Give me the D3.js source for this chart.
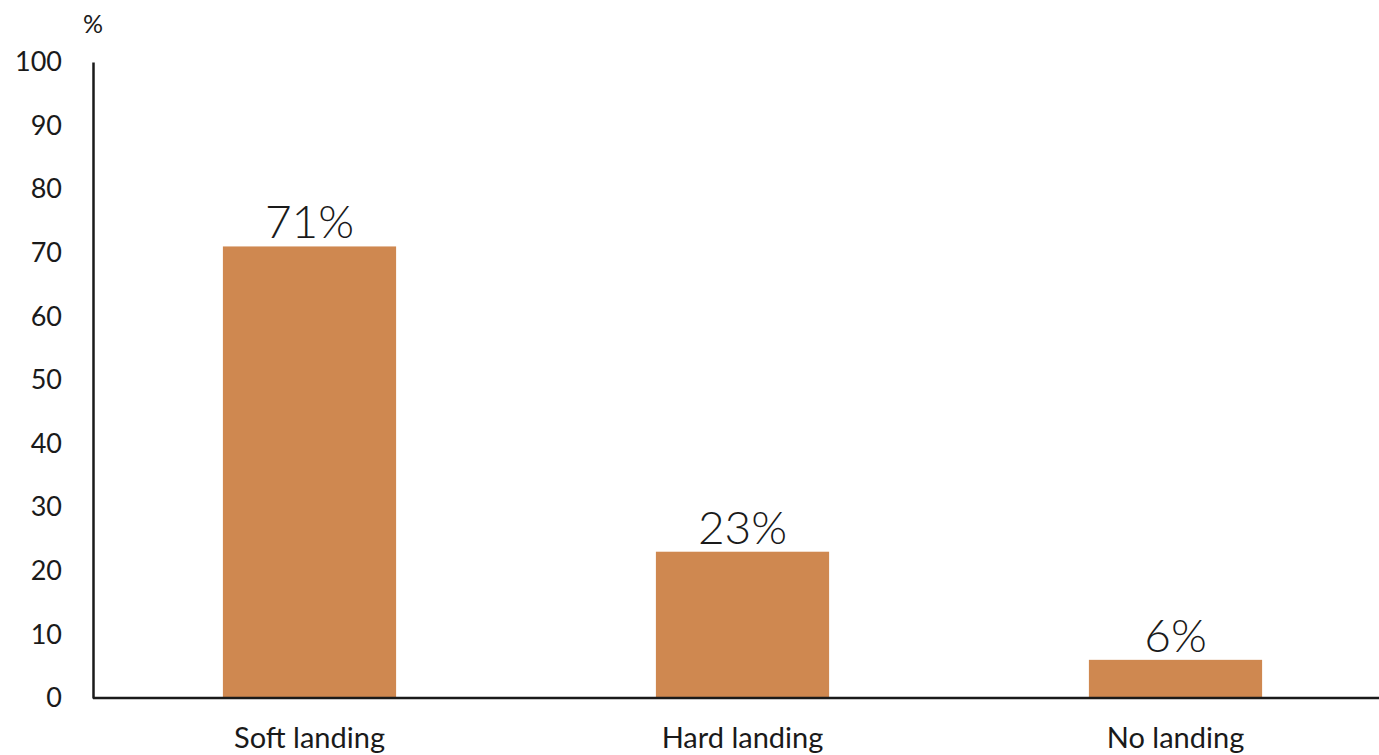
<!DOCTYPE html>
<html>
<head>
<meta charset="utf-8">
<script src="https://cdn.jsdelivr.net/npm/d3@7"></script>
<style>
  html, body { margin: 0; padding: 0; background: #fff; }
  svg { display: block; font-family: Lato, "Noto Sans", sans-serif; }
</style>
</head>
<body>
<svg id="chart" width="1379" height="755"></svg>
<script>
// Survey outcome shares
const categories = ["Soft landing", "Hard landing", "No landing"];
const values = [71, 23, 6];
const valueLabels = ["71%", "23%", "6%"];
const yTicks = [0, 10, 20, 30, 40, 50, 60, 70, 80, 90, 100];

(function draw() {
  const svg = d3.select("#chart");
  const mLeft = 93, mTop = 62, mBottom = 698, mRight = 1379;

  const x = d3.scaleBand()
    .domain(categories)
    .range([mLeft, mLeft + 3 * 433])
    .paddingInner(0.6)
    .paddingOuter(0.3);

  const y = d3.scaleLinear().domain([0, 100]).range([mBottom, mTop]);

  // bars
  svg.selectAll("rect.bar")
    .data(values)
    .join("rect")
    .attr("class", "bar")
    .attr("x", (d, i) => x(categories[i]))
    .attr("width", x.bandwidth())
    .attr("y", d => y(d))
    .attr("height", d => y(0) - y(d))
    .attr("fill", "#cf8850");

  // value labels
  svg.selectAll("text.val")
    .data(values)
    .join("text")
    .attr("class", "val")
    .attr("x", (d, i) => x(categories[i]) + x.bandwidth() / 2)
    .attr("y", d => y(d) - 8)
    .attr("text-anchor", "middle")
    .attr("font-size", 46)
    .attr("font-weight", 300)
    .attr("fill", "#1a1a1a")
    .text((d, i) => valueLabels[i]);

  // y axis
  const yAxis = d3.axisLeft(y).tickValues(yTicks).tickSize(0).tickPadding(31);
  const gy = svg.append("g").attr("transform", `translate(${mLeft},0)`).call(yAxis);
  gy.select(".domain").attr("stroke", "#1a1a1a").attr("stroke-width", 2.5);
  gy.selectAll("text").attr("font-size", 27).attr("fill", "#1a1a1a")
    .attr("font-family", "Lato, 'Noto Sans', sans-serif");

  // x axis baseline
  svg.append("line")
    .attr("x1", mLeft).attr("x2", mRight)
    .attr("y1", y(0)).attr("y2", y(0))
    .attr("stroke", "#1a1a1a").attr("stroke-width", 2.5);

  // category labels
  svg.selectAll("text.cat")
    .data(categories)
    .join("text")
    .attr("class", "cat")
    .attr("x", d => x(d) + x.bandwidth() / 2)
    .attr("y", 748)
    .attr("text-anchor", "middle")
    .attr("font-size", 29)
    .attr("fill", "#1a1a1a")
    .text(d => d);

  // unit label
  svg.append("text")
    .attr("x", 93).attr("y", 33)
    .attr("text-anchor", "middle")
    .attr("font-size", 25)
    .attr("fill", "#1a1a1a")
    .text("%");
})();
</script>
</body>
</html>
